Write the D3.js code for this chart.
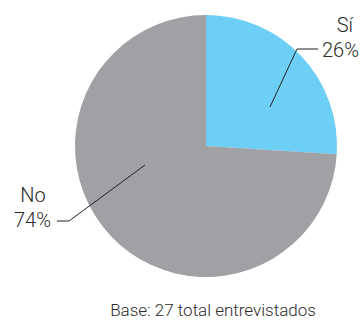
<!DOCTYPE html>
<html><head><meta charset="utf-8">
<script src="https://cdn.jsdelivr.net/npm/d3@7"></script>
<style>body{margin:0;background:#fff}svg{display:block}text{font-family:Roboto,"Liberation Sans Narrow",sans-serif;font-weight:300;fill:#2b2b2b}</style>
</head><body>
<svg id="c" width="360" height="320"></svg>
<script>
const categories = ["Sí", "No"];
const values = [26, 74];
const colors = ["#6dcff6", "#a0a1a5"];
const footer = "Base: 27 total entrevistados";

const svg = d3.select("#c");
const cx = 206, cy = 146, r = 131;
const g = svg.append("g").attr("transform", `translate(${cx},${cy})`);
const pie = d3.pie().sort(null).value(d => d)(values);
const arc = d3.arc().innerRadius(0).outerRadius(r);
g.selectAll("path").data(pie).join("path")
  .attr("d", arc).attr("fill", (d, i) => colors[i]);

// Sí
{
  const p0 = [270 - cx, 107 - cy];
  const p1 = [297 - cx, 49 - cy];
  const p2 = [318 - cx, 49 - cy];
  g.append("polyline").attr("points", [p0, p1, p2].map(p => p.join(",")).join(" "))
    .attr("fill", "none").attr("stroke", "#222").attr("stroke-width", 1);
  g.append("text").attr("x", 353 - cx).attr("y", 32 - cy).attr("text-anchor", "end")
    .attr("font-size", 20).text(categories[0]);
  g.append("text").attr("x", 359 - cx).attr("y", 57 - cy).attr("text-anchor", "end")
    .attr("font-size", 20).text(values[0] + "%");
}
// No
{
  const p0 = [145 - cx, 165 - cy];
  const p1 = [69 - cx, 221 - cy];
  const p2 = [57 - cx, 221 - cy];
  g.append("polyline").attr("points", [p0, p1, p2].map(p => p.join(",")).join(" "))
    .attr("fill", "none").attr("stroke", "#222").attr("stroke-width", 1);
  g.append("text").attr("x", 33 - cx).attr("y", 202 - cy).attr("text-anchor", "middle")
    .attr("font-size", 20).text(categories[1]);
  g.append("text").attr("x", 51 - cx).attr("y", 227 - cy).attr("text-anchor", "end")
    .attr("font-size", 20).text(values[1] + "%");
}
svg.append("text").attr("x", 213).attr("y", 316).attr("text-anchor", "middle")
  .attr("font-size", 17).text(footer);
</script>
</body></html>
